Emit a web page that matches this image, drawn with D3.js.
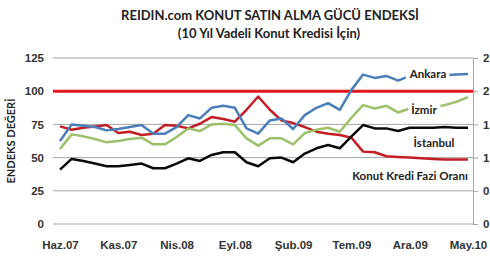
<!DOCTYPE html>
<html>
<head>
<meta charset="utf-8">
<script src="https://cdn.jsdelivr.net/npm/d3@7"></script>
<style>
  body { margin: 0; background: #fff; }
  svg { display: block; font-family: Lato, "Open Sans", sans-serif; }
  .axisLine .domain { stroke: #a6a6a6; }
  .axisLine .tick line { stroke: #a6a6a6; }
  .axisLine text { font-size: 11.5px; font-weight: bold; fill: #333; }
</style>
</head>
<body>
<div id="chart"></div>
<script>
// Data (monthly, Haz.07 - May.10)
var months = ["Haz.07","Tem.07","Ağu.07","Eyl.07","Eki.07","Kas.07","Ara.07","Oca.08","Şub.08","Mar.08",
  "Nis.08","May.08","Haz.08","Tem.08","Ağu.08","Eyl.08","Eki.08","Kas.08","Ara.08","Oca.09",
  "Şub.09","Mar.09","Nis.09","May.09","Haz.09","Tem.09","Ağu.09","Eyl.09","Eki.09","Kas.09",
  "Ara.09","Oca.10","Şub.10","Mar.10","Nis.10","May.10"];

var ankara = [62.5, 75, 74, 73, 70.5, 71.5, 73, 74.5, 68, 68,
  73, 82, 79.5, 87.5, 89, 87.5, 72, 68, 78, 79.5,
  71.5, 82, 87.5, 91, 86, 101, 112.5, 110, 111.5, 108,
  111.5, 112, 112, 112, 112.5, 113];

var izmir = [56.5, 67.5, 66, 64, 61.5, 62.5, 64, 65, 60, 60,
  65.5, 72, 70, 75, 75.5, 74.5, 64.5, 59, 64.5, 64.5,
  60, 68.5, 71, 72.5, 69.5, 80, 89.5, 87, 89, 84,
  87, 88, 88.5, 89.5, 92, 95.5];

var istanbul = [41, 49, 47.5, 45.5, 43.5, 43.5, 44.5, 45.5, 42, 42,
  45.5, 49.5, 47.5, 52, 54, 54, 46.5, 43.5, 49.5, 50,
  46.5, 53, 57, 59.5, 57, 66, 74.5, 72, 72, 70,
  72.5, 72.5, 72.5, 73, 72.5, 72.5];

// interest rate, right axis
var faiz = [1.47, 1.42, 1.45, 1.47, 1.49, 1.37, 1.39, 1.34, 1.36, 1.49,
  1.48, 1.44, 1.51, 1.61, 1.58, 1.54, 1.72, 1.92, 1.72, 1.56,
  1.52, 1.46, 1.39, 1.36, 1.34, 1.30, 1.09, 1.08, 1.02, 1.01,
  1.00, 0.99, 0.98, 0.97, 0.97, 0.97];

var leftTicks = [0, 25, 50, 75, 100, 125];
var rightTicks = [0, 0.5, 1, 1.5, 2, 2.5];
var rightLabels = ["0", "0,5", "1", "1,5", "2", "2,5"];
var refValue = 100;

var width = 490, height = 265;
var plot = {left: 53, right: 473, top: 58, bottom: 224};

var svg = d3.select("#chart").append("svg")
    .attr("width", width)
    .attr("height", height);

var x = d3.scalePoint().domain(months).range([60, 468]);
var y = d3.scaleLinear().domain([0, 125]).range([plot.bottom, plot.top]);
var y2 = d3.scaleLinear().domain([0, 2.5]).range([plot.bottom, plot.top]);

// title
svg.append("text")
    .attr("x", 270).attr("y", 20)
    .attr("text-anchor", "middle")
    .style("font-size", "13px").style("font-weight", "bold").style("fill", "#222")
    .text("REIDIN.com KONUT SATIN ALMA GÜCÜ ENDEKSİ");
svg.append("text")
    .attr("x", 269).attr("y", 38)
    .attr("text-anchor", "middle")
    .style("font-size", "13px").style("font-weight", "bold").style("fill", "#222")
    .text("(10 Yıl Vadeli Konut Kredisi İçin)");

// gridlines
svg.append("g").selectAll("line")
    .data(leftTicks)
    .enter().append("line")
    .attr("x1", plot.left).attr("x2", plot.right)
    .attr("y1", function(d) { return y(d); })
    .attr("y2", function(d) { return y(d); })
    .attr("stroke", "#a6a6a6").attr("stroke-width", 1);

// left axis
svg.append("g")
    .attr("class", "axisLine")
    .attr("transform", "translate(" + plot.left + ",0)")
    .call(d3.axisLeft(y).tickValues(leftTicks).tickSize(0).tickPadding(9))
    .call(function(g) { g.select(".domain").remove(); });

// right axis
svg.append("g")
    .attr("class", "axisLine")
    .attr("transform", "translate(" + plot.right + ",0)")
    .call(d3.axisRight(y2).tickValues(rightTicks).tickSize(5).tickSizeOuter(0).tickPadding(5)
      .tickFormat(function(d, i) { return rightLabels[i]; }));

// bottom axis
svg.append("g")
    .attr("class", "axisLine")
    .attr("transform", "translate(0," + plot.bottom + ")")
    .call(d3.axisBottom(x)
      .tickValues(months.filter(function(d, i) { return i % 5 === 0; }))
      .tickSize(0).tickPadding(17))
    .call(function(g) { g.select(".domain").remove(); });

// y title
svg.append("text")
    .attr("transform", "translate(15,141) rotate(-90)")
    .attr("text-anchor", "middle")
    .style("font-size", "11px").style("font-weight", "bold").style("fill", "#222")
    .text("ENDEKS DEĞERİ");

// reference line at 100
svg.append("line")
    .attr("x1", plot.left).attr("x2", plot.right)
    .attr("y1", y(refValue)).attr("y2", y(refValue))
    .attr("stroke", "#e3171f").attr("stroke-width", 3);

var line = d3.line()
    .x(function(d, i) { return x(months[i]); })
    .y(function(d) { return y(d); });
var line2 = d3.line()
    .x(function(d, i) { return x(months[i]); })
    .y(function(d) { return y2(d); });

var series = [
  {values: faiz, color: "#c41e24", gen: line2},
  {values: ankara, color: "#4a7ebb", gen: line},
  {values: izmir, color: "#9bc16a", gen: line},
  {values: istanbul, color: "#0a0a0a", gen: line}
];

series.forEach(function(s) {
  svg.append("path")
      .datum(s.values)
      .attr("fill", "none")
      .attr("stroke", s.color)
      .attr("stroke-width", 2.5)
      .attr("stroke-linejoin", "round")
      .attr("d", s.gen);
});

// series labels (white boxes cover the lines like in the original)
var labels = [
  {text: "Ankara", x: 428, y: 74},
  {text: "İzmir", x: 424, y: 110},
  {text: "İstanbul", x: 434, y: 143},
  {text: "Konut Kredi Fazi Oranı", x: 410, y: 176}
];

labels.forEach(function(l) {
  var g = svg.append("g");
  var t = g.append("text")
      .attr("x", l.x).attr("y", l.y)
      .attr("dy", "0.35em")
      .attr("text-anchor", "middle")
      .style("font-size", "11.5px").style("font-weight", "bold").style("fill", "#222")
      .text(l.text);
  var b = t.node().getBBox();
  g.insert("rect", "text")
      .attr("x", b.x - 3).attr("y", b.y + 1)
      .attr("width", b.width + 6).attr("height", b.height - 2)
      .attr("fill", "#fff");
});
</script>
</body>
</html>
